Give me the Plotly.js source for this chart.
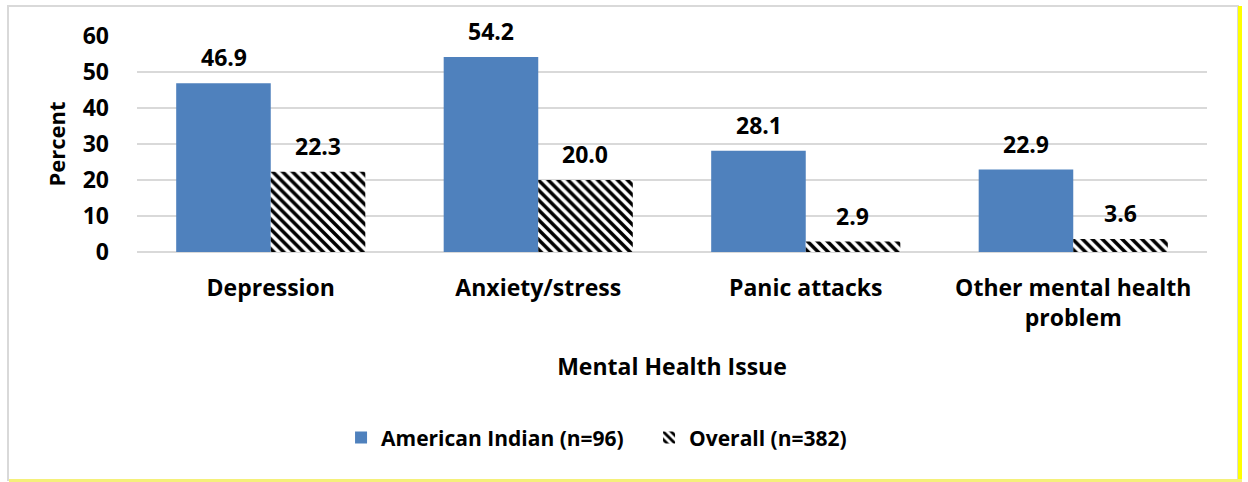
<!DOCTYPE html>
<html>
<head>
<meta charset="utf-8">
<script src="https://cdn.plot.ly/plotly-3.0.1.min.js"></script>
<style>
  html, body { margin: 0; padding: 0; background: #ffffff; }
  #frame { position: absolute; left: 7px; top: 5px; width: 1228px; height: 472px; border: 2px solid #d9d9d9; background: #ffffff; }
  #yellowR { position: absolute; left: 1238px; top: 6px; width: 4px; height: 476px; background: #ffff00; }
  #yellowB { position: absolute; left: 9px; top: 479px; width: 1233px; height: 3px; background: #f5f07a; }
  #chart { position: absolute; left: 0; top: 0; width: 1248px; height: 482px; }
</style>
</head>
<body>
<div id="frame"></div>
<div id="yellowR"></div>
<div id="yellowB"></div>
<div id="chart"></div>
<script>
const categories = ["Depression", "Anxiety/stress", "Panic attacks", "Other mental health<br>problem"];
const americanIndian = [46.9, 54.2, 28.1, 22.9];
const overall = [22.3, 20.0, 2.9, 3.6];
const seriesNames = ["American Indian (n=96)", "Overall (n=382)"];
const yTicks = [0, 10, 20, 30, 40, 50, 60];

const FONT = "'Open Sans', 'Noto Sans', sans-serif";
const FS = 23;

const traces = [
  {
    type: "bar", name: seriesNames[0], x: categories, y: americanIndian,
    marker: { color: "#4f81bd" }, hoverinfo: "skip"
  },
  {
    type: "bar", name: seriesNames[1], x: categories, y: overall,
    marker: { color: "#ffffff", pattern: { shape: "\\", fgcolor: "#000000", bgcolor: "#ffffff", size: 7, solidity: 0.5 } },
    hoverinfo: "skip"
  }
];

const annotations = [];
categories.forEach((c, i) => {
  annotations.push({ x: c, y: americanIndian[i], xref: "x", yref: "y", text: "<b>" + americanIndian[i].toFixed(1) + "</b>",
    showarrow: false, xshift: -47, yshift: 26, yanchor: "middle", font: { family: FONT, size: FS, color: "#000" } });
  annotations.push({ x: c, y: overall[i], xref: "x", yref: "y", text: "<b>" + overall[i].toFixed(1) + "</b>",
    showarrow: false, xshift: 47, yshift: 26, yanchor: "middle", font: { family: FONT, size: FS, color: "#000" } });
});

const layout = {
  width: 1248, height: 482,
  paper_bgcolor: "rgba(0,0,0,0)", plot_bgcolor: "rgba(0,0,0,0)",
  margin: { l: 137, r: 41, t: 35.5, b: 230 },
  barmode: "group", bargap: 0.293, bargroupgap: 0,
  font: { family: FONT, color: "#000" },
  showlegend: true,
  legend: { orientation: "h", x: 0.1907, xanchor: "left", y: -0.86, yanchor: "middle", entrywidth: 263,
    font: { family: FONT, size: 21, color: "#000", weight: "bold" }, itemwidth: 30, tracegroupgap: 0, traceorder: "normal" },
  xaxis: {
    type: "category", showgrid: false, zeroline: false, showline: false, ticks: "",
    tickfont: { family: FONT, size: FS, color: "#000", weight: "bold" }, ticklabelstandoff: 20,
    title: { text: "<b>Mental Health Issue</b>", font: { family: FONT, size: FS, color: "#000" }, standoff: 26 }
  },
  yaxis: {
    range: [0, 60], tickvals: yTicks, showgrid: true, gridcolor: "#d9d9d9", gridwidth: 1.5,
    zeroline: true, zerolinecolor: "#d9d9d9", zerolinewidth: 1.5, showline: false, ticks: "",
    tickfont: { family: FONT, size: FS, color: "#000", weight: "bold" }, ticklabelstandoff: 27,
    title: { text: "<b>Percent</b>", font: { family: FONT, size: 22, color: "#000" }, standoff: 10 }
  },
  annotations: annotations
};

Plotly.newPlot("chart", traces, layout, { staticPlot: true, displayModeBar: false });
</script>
</body>
</html>
